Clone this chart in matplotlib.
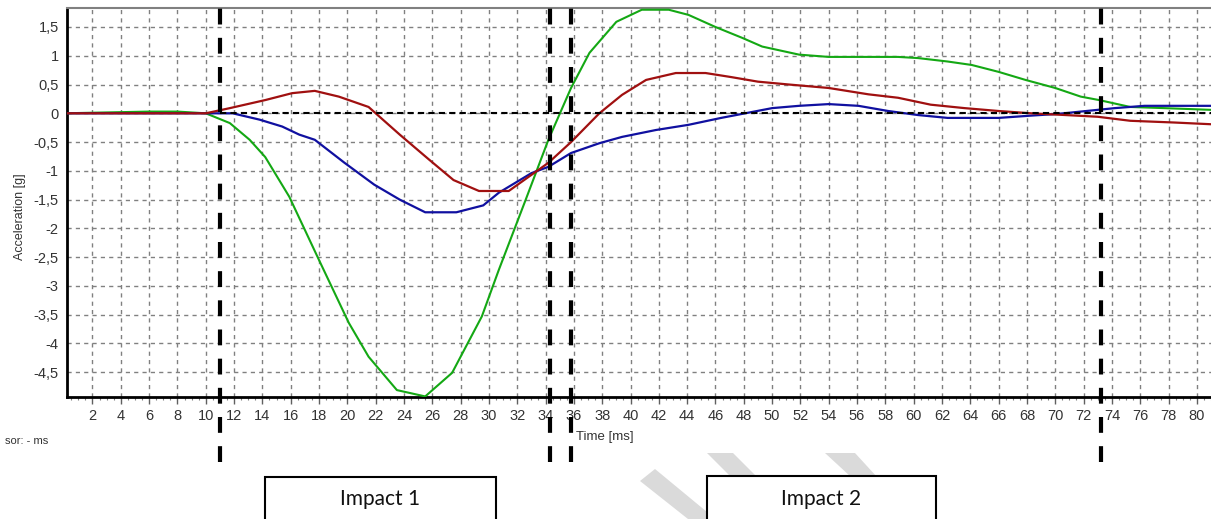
import matplotlib
matplotlib.use('Agg')
import matplotlib.pyplot as plt
from matplotlib.ticker import MultipleLocator, FuncFormatter
from matplotlib.patches import Rectangle, Polygon

# === data ===
t_green = [0, 4, 6, 8, 10, 11.7, 13.1, 14.2, 15.9, 18, 20.1, 21.5, 23.5, 25.5, 27.4, 29.5,
           30.7, 32.6, 34.2, 35.8, 37.1, 39, 40.8, 42.7, 44.1, 46, 47.9, 49.3, 51.9, 54,
           57.5, 58.9, 60.3, 62.4, 64.1, 66, 67.9, 70, 71.8, 73.1, 75.3, 77.7, 81]
g_green = [0, 0.02, 0.03, 0.03, 0.0, -0.17, -0.46, -0.76, -1.45, -2.55, -3.64, -4.23, -4.81,
           -4.92, -4.51, -3.53, -2.72, -1.5, -0.46, 0.44, 1.05, 1.59, 1.8, 1.8, 1.71, 1.5,
           1.31, 1.16, 1.02, 0.98, 0.98, 0.98, 0.96, 0.9, 0.84, 0.72, 0.58, 0.44, 0.29, 0.23,
           0.11, 0.09, 0.06]

t_red = [0, 10, 11.7, 14.2, 16.1, 17.7, 19.4, 21.5, 23.7, 25.8, 27.5, 29.3, 31.4, 33.0, 34.2,
         35.8, 37.8, 39.4, 41.1, 43.2, 45.3, 47.1, 49, 51.2, 54, 56.8, 58.9, 61.2, 63.6, 66,
         68.3, 70.7, 73, 75.3, 78.4, 81]
g_red = [0, 0, 0.09, 0.23, 0.35, 0.39, 0.29, 0.11, -0.37, -0.81, -1.16, -1.35, -1.35, -1.07,
         -0.86, -0.5, 0, 0.32, 0.58, 0.70, 0.70, 0.63, 0.55, 0.5, 0.44, 0.33, 0.27, 0.15, 0.09,
         0.04, 0.0, -0.03, -0.06, -0.13, -0.16, -0.19]

t_blue = [0, 10, 11.9, 13.8, 15.4, 16.6, 17.7, 19.8, 21.9, 23.7, 25.5, 27.7, 29.6, 30.7, 33,
          34.2, 35.8, 37.8, 39.4, 41.8, 44.1, 46.4, 48.1, 50, 51.9, 54, 56.1, 58.2, 60.3, 62.4,
          66, 68.3, 70.2, 71.8, 74.2, 76.3, 81]
g_blue = [0, 0, 0, -0.11, -0.23, -0.37, -0.46, -0.86, -1.24, -1.5, -1.72, -1.72, -1.6, -1.38,
          -1.04, -0.93, -0.69, -0.52, -0.41, -0.29, -0.2, -0.08, 0, 0.09, 0.13, 0.16, 0.13,
          0.04, -0.03, -0.08, -0.08, -0.04, -0.01, 0.03, 0.09, 0.13, 0.13]

# impact markers [ms]
markers = [11.0, 34.3, 35.8, 73.2]
impact_labels = ['Impact 1', 'Impact 2']

W, H = 1211, 519
fig = plt.figure(figsize=(W / 100, H / 100), dpi=100)
ax = fig.add_axes([67 / W, (H - 397) / H, (W - 67) / W, (397 - 8) / H])

ax.plot(t_green, g_green, color='#14a814', lw=1.5, zorder=3)
ax.plot(t_blue, g_blue, color='#1010a0', lw=1.6, zorder=3)
ax.plot(t_red, g_red, color='#a01010', lw=1.6, zorder=4)

# zero reference line
ax.plot([11, 81], [0, 0], color='black', lw=1.5, dashes=(3, 2), zorder=5)

# impact markers, running below the axes
for m in markers:
    ax.axvline(m, ymin=-0.167, ymax=1, color='black', lw=3, dashes=(3.8, 3.2),
               clip_on=False, zorder=6)

ax.set_xlim(0.2, 81)
ax.set_ylim(-4.93, 1.83)
ax.xaxis.set_major_locator(MultipleLocator(2))
ax.xaxis.set_minor_locator(MultipleLocator(0.5))
ax.yaxis.set_major_locator(MultipleLocator(0.5))
ax.xaxis.set_major_formatter(FuncFormatter(lambda v, p: '' if v <= 0 else '%d' % v))
ax.yaxis.set_major_formatter(FuncFormatter(
    lambda v, p: ('%g' % round(v, 2)).replace('.', ',') if v > -4.9 else ''))

ax.grid(False, which='minor')
ax.grid(True, which='major', color='#808080', lw=1, dashes=(3, 3))
ax.tick_params(axis='x', which='major', length=5, width=1, color='#606060',
               labelsize=10.5, pad=4)
ax.tick_params(axis='x', which='minor', length=2.5, width=0.8, color='#808080')
ax.tick_params(axis='y', length=0, labelsize=10.5, pad=6)
for lab in ax.get_xticklabels() + ax.get_yticklabels():
    lab.set_fontfamily('Liberation Sans')
    lab.set_color('#333333')

ax.spines['left'].set_linewidth(2)
ax.spines['bottom'].set_linewidth(2)
ax.spines['top'].set_color('#808080')
ax.spines['top'].set_linewidth(1.5)
ax.spines['right'].set_visible(False)

fig.text(20 / W, 1 - 217 / H, 'Acceleration [g]', rotation=90, ha='center', va='center',
         fontsize=9, family='Liberation Sans', color='#333333')
fig.text(605 / W, 1 - 437 / H, 'Time [ms]', ha='center', va='center',
         fontsize=9.5, family='Liberation Sans', color='#333333')
fig.text(5 / W, 1 - 441 / H, 'sor: - ms', ha='left', va='center',
         fontsize=8, family='Liberation Sans', color='#333333')

# overlay in pixel coordinates for watermark stripes and label boxes
ov = fig.add_axes([0, 0, 1, 1], zorder=10)
ov.set_xlim(0, W)
ov.set_ylim(H, 0)
ov.axis('off')
ov.patch.set_alpha(0)

stripes = [
    [(640, 481), (655, 469), (707, 512), (707, 519), (688, 519)],
    [(707, 453), (733, 453), (757, 477), (731, 477)],
    [(825, 453), (855, 453), (877, 477), (851, 477)],
]
for s in stripes:
    ov.add_patch(Polygon(s, closed=True, facecolor='#dadada', edgecolor='none', zorder=1))

boxes = [(265, 477, 231), (707, 476, 229)]
for (bx, by, bw), lab in zip(boxes, impact_labels):
    ov.add_patch(Rectangle((bx, by), bw, 60, facecolor='white', edgecolor='black',
                           lw=1.5, zorder=2))
    ov.text(bx + bw / 2, 499, lab, ha='center', va='center', fontsize=15,
            family='Lato', color='#111111', zorder=3)

fig.savefig('out.png', dpi=100)
